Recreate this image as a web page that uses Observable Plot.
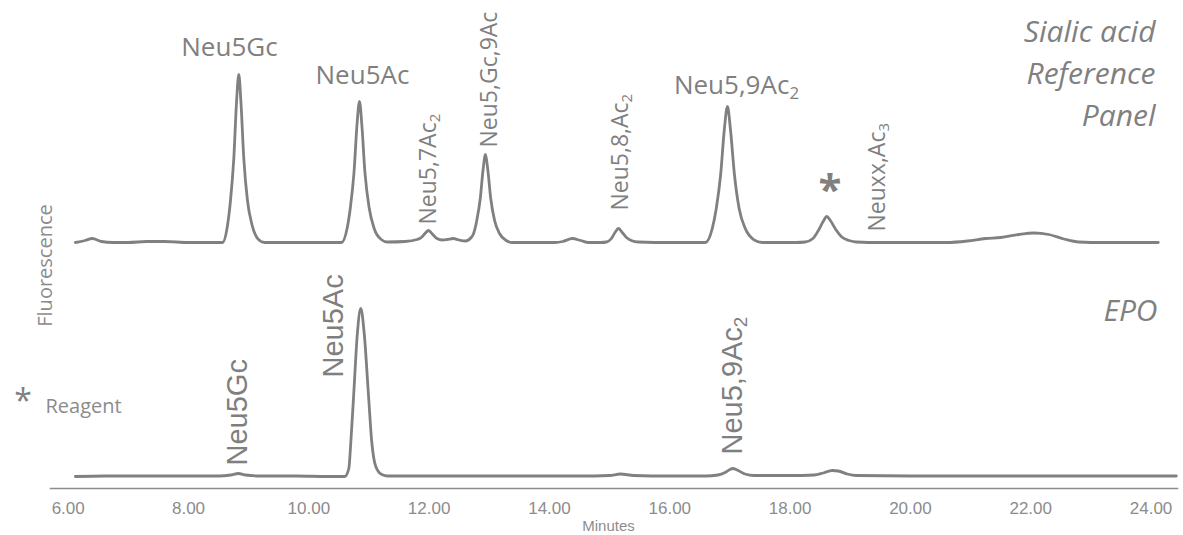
<!DOCTYPE html>
<html><head><meta charset="utf-8">
<script src="https://cdn.jsdelivr.net/npm/d3@7"></script>
<script src="https://cdn.jsdelivr.net/npm/@observablehq/plot@0.6"></script>
<style>body{margin:0;background:#fff}</style>
</head><body><div id="chart"></div>
<script>
// ---- Data ----
// Sialic acid reference panel trace: retention time (min) and fluorescence (a.u.)
const refTime = [6.12,6.28,6.40,6.55,6.75,7.00,7.30,7.60,8.00,8.45,
  8.565,8.648,8.698,8.753,8.798,8.836,8.872,8.919,8.980,9.059,9.163,9.263,
  9.60,10.20,
  10.544,10.636,10.691,10.751,10.800,10.842,10.882,10.933,11.002,11.086,11.203,11.307,
  11.60,11.80,11.87,11.93,11.99,12.06,12.13,12.22,12.30,12.40,12.50,12.60,12.70,
  12.739,12.792,12.850,12.897,12.937,12.975,13.024,13.088,13.170,13.281,13.386,
  13.70,14.10,14.22,14.38,14.52,14.65,14.85,
  14.95,15.03,15.09,15.15,15.21,15.28,15.36,15.48,16.00,16.50,
  16.593,16.705,16.773,16.846,16.907,16.959,17.009,17.075,17.153,17.258,17.401,17.536,
  17.80,18.10,18.25,18.38,18.47,18.55,18.61,18.67,18.76,18.86,18.98,19.10,
  19.50,20.00,20.60,20.95,21.25,21.50,21.80,22.05,22.30,22.55,22.80,23.20,24.12];
const refSignal = [0,2,4,1,0,0,1,1,0,0,
  0,17,42,84,140,168,140,84,42,17,3,0,
  0,0,
  0,14,35,70,117,141,117,70,35,14,3,0.5,
  1,3,5,9,12,8,4,2.5,3,4,2.5,1.5,5,
  9,22,44,73,88,73,44,22,9,2,0,
  0,0,1,4,2,0,0,
  0.5,4,10,14,10,5,2,0.5,0,0,
  0,13.6,34,68,113,136,113,68,34,13.6,2.7,0,
  0,0,0.5,4,12,21,26,22,13,5.5,2,0.5,
  0,0,0,1.5,4,5,8,9.5,8,3.5,0.5,0,0];

// EPO sample trace
const epoTime = [6.12,6.60,7.00,7.60,8.00,8.50,8.70,8.83,8.95,9.20,9.80,10.30,
  10.598,10.665,10.698,10.748,10.807,10.864,10.921,10.989,11.047,11.113,11.213,11.313,
  11.60,12.50,13.50,14.50,15.00,15.18,15.40,16.00,16.60,16.80,16.92,17.00,17.05,17.12,17.25,17.40,
  18.00,18.40,18.55,18.70,18.80,18.95,19.10,20.00,21.00,22.00,23.00,24.42];
const epoSignal = [0,0.5,0.5,0.5,0.5,0.5,1.5,3,1.5,0.5,0.5,0,
  0,8,34,84,143,168,143,84,34,10,2,0.5,
  0.5,0.5,0.5,0.5,1,2.5,1,0.5,0.5,1.5,4,7,8,6.5,2.5,1,
  1,1.5,3.5,6,5.5,2.5,1,0.5,0.5,0.5,0.5,0.5];

const xTicks = [6,8,10,12,14,16,18,20,22,24];

// Peak annotations (time in min, level in signal units above each trace baseline)
const refTopLabels = ["Neu5Gc","Neu5Ac","Neu5,9Ac₂"];
const refTopTimes  = [8.681,10.892,17.109];
const refTopLevels = [187,159,149];
const refRotLabels = ["Neu5,7Ac₂","Neu5,Gc,9Ac","Neu5,8,Ac₂","Neuxx,Ac₃"];
const refRotTimes  = [11.990,13.003,15.181,19.453];
const refRotLevels = [18,95,32,11];
const epoLabels = ["Neu5Gc","Neu5Ac","Neu5,9Ac₂"];
const epoTimes  = [8.822,10.410,17.042];
const epoLevels = [11,99,22];
const reagentTime = 18.664, reagentLevel = 52;

// ---- Build ----
const REF_OFFSET = 234; // stacking offset of the reference trace above the EPO trace
const refData = refTime.map((t,i)=>({t, v: refSignal[i] + REF_OFFSET}));
const epoData = epoTime.map((t,i)=>({t, v: epoSignal[i]}));
const refTop = refTopLabels.map((s,i)=>({s, t: refTopTimes[i], v: refTopLevels[i] + REF_OFFSET}));
const refRot = refRotLabels.map((s,i)=>({s, t: refRotTimes[i], v: refRotLevels[i] + REF_OFFSET}));
const epoRot = epoLabels.map((s,i)=>({s, t: epoTimes[i], v: epoLevels[i]}));
const star = [{s:"*", t: reagentTime, v: reagentLevel + REF_OFFSET}];

const grey = "#808080";
const light = "#8c8c8c";

const svg = Plot.plot({
  width: 1183, height: 535,
  marginLeft: 50, marginRight: 6, marginTop: 0, marginBottom: 47,
  x: {domain: [5.706, 24.44]},
  y: {domain: [-12, 476], axis: null},
  style: {fontFamily: "Open Sans", background: "#fff"},
  marks: [
    Plot.frame({anchor: "bottom", stroke: light, strokeWidth: 1.5}),
    Plot.axisX({ticks: xTicks, tickFormat: d3.format(".2f"), tickSize: 0, tickPadding: 13,
      fontSize: 17, color: light, fontFamily: "Liberation Sans", label: null}),
    Plot.line(refData, {x: "t", y: "v", stroke: grey, strokeWidth: 2.8, curve: "monotone-x"}),
    Plot.line(epoData, {x: "t", y: "v", stroke: grey, strokeWidth: 2.8, curve: "monotone-x"}),
    Plot.text(refTop, {x: "t", y: "v", text: "s", fontSize: 26, fill: "#7f7f7f",
      textAnchor: "middle", lineAnchor: "bottom"}),
    Plot.text(refRot, {x: "t", y: "v", text: "s", fontSize: 23, fill: "#7f7f7f",
      rotate: -90, textAnchor: "start", lineAnchor: "middle"}),
    Plot.text(epoRot, {x: "t", y: "v", text: "s", fontSize: 29, fill: "#7f7f7f",
      fontFamily: "Liberation Sans", rotate: -90, textAnchor: "start", lineAnchor: "middle"}),
    Plot.text(star, {x: "t", y: "v", text: "s", fontSize: 42, fontWeight: "bold", fill: grey,
      textAnchor: "middle", lineAnchor: "middle"}),
    Plot.text(["Sialic acid\nReference\nPanel"], {frameAnchor: "top-right", dx: -22, dy: 12,
      fontSize: 30, fontStyle: "italic", lineHeight: 1.39, fill: grey, textAnchor: "end", lineAnchor: "top"}),
    Plot.text(["EPO"], {frameAnchor: "top-right", dx: -20, dy: 320,
      fontSize: 30, fontStyle: "italic", fill: grey, textAnchor: "end", lineAnchor: "bottom"}),
    Plot.text(["Fluorescence"], {frameAnchor: "top-left", dx: -5, dy: 265, rotate: -90,
      fontSize: 20, fill: light, textAnchor: "middle", lineAnchor: "middle"}),
    Plot.text(["*"], {frameAnchor: "top-left", dx: -27.5, dy: 411, fontSize: 32, fill: grey,
      textAnchor: "middle", lineAnchor: "bottom"}),
    Plot.text(["Reagent"], {frameAnchor: "top-left", dx: -5, dy: 412, fontSize: 20, fill: light,
      textAnchor: "start", lineAnchor: "bottom"}),
    Plot.text(["Minutes"], {frameAnchor: "bottom", dx: -5.5, dy: 42, fontSize: 15, fill: light,
      fontFamily: "Liberation Sans", lineAnchor: "bottom"})
  ]
});

// Render trailing subscript digits as real subscripts
const NS = "http://www.w3.org/2000/svg";
const subMap = {"₂": "2", "₃": "3"};
svg.querySelectorAll("text").forEach(el => {
  if (el.children.length) return;
  const s = el.textContent;
  const m = s.match(/^(.*?)([₂₃])$/);
  if (!m) return;
  el.textContent = m[1];
  const ts = document.createElementNS(NS, "tspan");
  ts.setAttribute("dy", "0.3em");
  ts.style.fontSize = "65%";
  ts.textContent = subMap[m[2]];
  el.appendChild(ts);
});

document.getElementById("chart").appendChild(svg);
</script>
</body></html>
